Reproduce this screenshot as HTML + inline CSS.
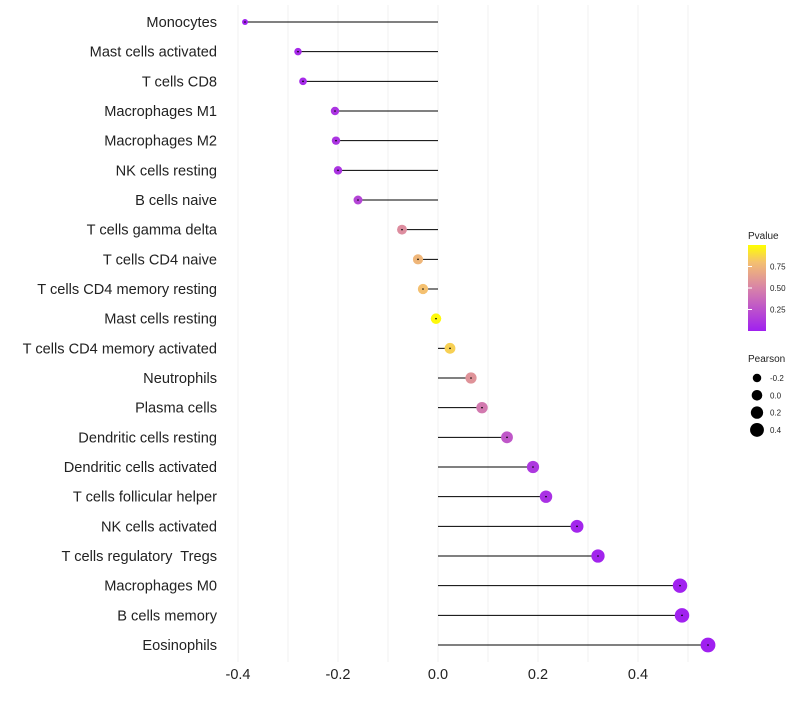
<!DOCTYPE html>
<html><head><meta charset="utf-8"><style>
body{margin:0;background:#fff;font-family:"Liberation Sans",sans-serif}
text{white-space:pre}
</style></head><body>
<svg id="c" width="800" height="700" xmlns="http://www.w3.org/2000/svg">
<defs><linearGradient id="pg" x1="0" y1="1" x2="0" y2="0">
<stop offset="0" stop-color="#a020f0"/><stop offset="0.5" stop-color="#d883a8"/><stop offset="0.8" stop-color="#f4c070"/><stop offset="1" stop-color="#ffff00"/></linearGradient></defs>
</svg>
<script>
const categories=["Monocytes","Mast cells activated","T cells CD8","Macrophages M1","Macrophages M2","NK cells resting","B cells naive","T cells gamma delta","T cells CD4 naive","T cells CD4 memory resting","Mast cells resting","T cells CD4 memory activated","Neutrophils","Plasma cells","Dendritic cells resting","Dendritic cells activated","T cells follicular helper","NK cells activated","T cells regulatory  Tregs","Macrophages M0","B cells memory","Eosinophils"];
const pearson=[-0.386,-0.28,-0.27,-0.206,-0.204,-0.2,-0.16,-0.072,-0.04,-0.03,-0.004,0.024,0.066,0.088,0.138,0.19,0.216,0.278,0.32,0.484,0.488,0.54];
const pvalue=[0.0,0.05,0.05,0.1,0.1,0.1,0.18,0.55,0.75,0.8,0.98,0.85,0.58,0.45,0.28,0.12,0.08,0.03,0.02,0.01,0.01,0.0];
const xTicks=[-0.4,-0.2,0.0,0.2,0.4];
const xTickLabels=["-0.4","-0.2","0.0","0.2","0.4"];
const sizeLegend=[-0.2,0.0,0.2,0.4];
const colorLegend=[0.25,0.5,0.75];
const svg=document.getElementById('c');const NS="http://www.w3.org/2000/svg";
const X=v=>438+v*500;const Y=i=>22+i*(623/21);
const R=v=>Math.sqrt(Math.max(2,28+50*v));
function lerp(a,b,t){return a.map((x,i)=>Math.round(x+(b[i]-x)*t));}
function col(p){const s=[[0,[160,32,240]],[0.5,[216,131,168]],[0.8,[244,192,112]],[1,[255,255,0]]];
for(let i=1;i<s.length;i++){if(p<=s[i][0]){const t=(p-s[i-1][0])/(s[i][0]-s[i-1][0]);return 'rgb('+lerp(s[i-1][1],s[i][1],t).join(',')+')';}}return 'rgb(255,255,0)';}
function el(t,a,txt){const e=document.createElementNS(NS,t);for(const k in a)e.setAttribute(k,a[k]);if(txt!=null)e.textContent=txt;svg.appendChild(e);return e;}
for(let v=-0.4;v<=0.51;v+=0.1){const g=el('line',{x1:X(v),x2:X(v),y1:5,y2:662,stroke:'#f0f0f0','stroke-width':1});

}
xTicks.forEach((v,i)=>{const t=el('text',{x:X(v),y:679,'text-anchor':'middle','font-size':14.5,fill:'#222'},xTickLabels[i]);

});
categories.forEach((c,i)=>{const y=Y(i);
const t=el('text',{x:217,y:y+5,'text-anchor':'end','font-size':14.6,fill:'#222'},c);


const l=el('line',{x1:X(0),x2:X(pearson[i]),y1:y,y2:y,stroke:'#000','stroke-width':1});


const d=el('circle',{cx:X(pearson[i]),cy:y,r:R(pearson[i]),fill:col(pvalue[i])});


const k=el('circle',{cx:X(pearson[i]),cy:y,r:0.8,fill:'#000'});

});
let t=el('text',{x:748,y:239,'font-size':10,fill:'#222'},'Pvalue');
let b=el('rect',{x:748,y:245,width:18,height:86,fill:'url(#pg)'});
colorLegend.forEach(p=>{const y=331-p*86;
const tk=el('line',{x1:748,x2:752,y1:y,y2:y,stroke:'#fff'});
const tx=el('text',{x:770,y:y+3,'font-size':8,fill:'#222'},p.toFixed(2));});
t=el('text',{x:748,y:362,'font-size':10,fill:'#222'},'Pearson');
sizeLegend.forEach((v,i)=>{const y=378+i*17.3;
const c=el('circle',{cx:757,cy:y,r:R(v),fill:'#000'});
const tx=el('text',{x:770,y:y+3,'font-size':8,fill:'#222'},v.toFixed(1));});
</script>
</body></html>
